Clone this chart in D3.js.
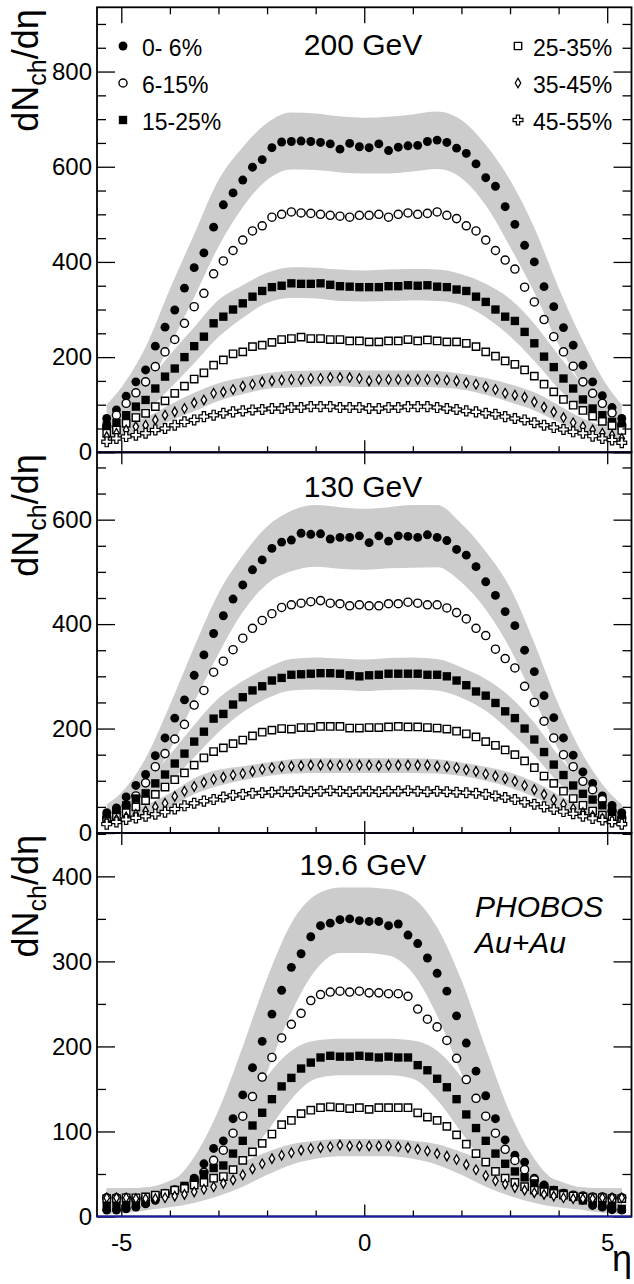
<!DOCTYPE html>
<html>
<head>
<meta charset="utf-8">
<script src="https://cdn.jsdelivr.net/npm/d3@7"></script>
<style>
  body { margin: 0; background: #fff; }
  svg { display: block; }
  text { font-family: "Liberation Sans", Arial, Helvetica, sans-serif; }
</style>
</head>
<body>
<div id="chart"></div>
<script>
// eta bin centres of the measured points
const etaBins = [-5.3, -5.1, -4.9, -4.7, -4.5, -4.3, -4.1, -3.9, -3.7, -3.5, -3.3, -3.1, -2.9, -2.7, -2.5, -2.3, -2.1, -1.9, -1.7, -1.5, -1.3, -1.1, -0.9, -0.7, -0.5, -0.3, -0.1,
                 0.1, 0.3, 0.5, 0.7, 0.9, 1.1, 1.3, 1.5, 1.7, 1.9, 2.1, 2.3, 2.5, 2.7, 2.9, 3.1, 3.3, 3.5, 3.7, 3.9, 4.1, 4.3, 4.5, 4.7, 4.9, 5.1, 5.3];
// eta grid of the systematic error bands
const bandEta = [-5.3, -5.0, -4.5, -4.0, -3.5, -3.0, -2.5, -2.0, -1.5, -1.0, -0.5, 0, 0.5, 1.0, 1.5, 2.0, 2.5, 3.0, 3.5, 4.0, 4.5, 5.0, 5.3];

const centralities = ["0- 6%", "6-15%", "15-25%", "25-35%", "35-45%", "45-55%"];

// 200 GeV
const dn200_0_6 = [71, 89, 118, 148, 173, 223, 263, 299, 345, 388, 419, 473, 520, 545, 572, 599, 615, 640, 652, 653, 654, 653, 651, 648, 637, 649, 642,
                   640, 648, 634, 641, 644, 645, 653, 656, 651, 639, 628, 606, 577, 559, 516, 479, 435, 400, 348, 306, 262, 225, 183, 148, 119, 94, 71];
const dn200_6_15 = [54, 78, 103, 125, 148, 180, 211, 237, 271, 306, 334, 375, 402, 424, 446, 465, 476, 494, 500, 505, 503, 502, 500, 498, 496, 494, 498,
                    498, 500, 494, 500, 503, 500, 502, 505, 498, 491, 476, 465, 446, 424, 404, 385, 347, 316, 279, 243, 211, 181, 148, 124, 103, 83, 57];
const dn200_15_25 = [56, 62, 78, 96, 110, 134, 159, 176, 200, 223, 243, 271, 285, 300, 313, 327, 339, 347, 350, 355, 354, 354, 355, 352, 349, 348, 347,
                     347, 347, 349, 349, 351, 350, 351, 348, 347, 342, 339, 327, 316, 300, 285, 276, 253, 229, 201, 179, 155, 134, 111, 92, 78, 64, 56];
const dn200_25_35 = [40, 47, 61, 73, 82, 96, 108, 124, 139, 154, 167, 183, 194, 207, 211, 222, 225, 231, 237, 239, 242, 239, 239, 237, 237, 234, 234,
                     232, 232, 234, 234, 237, 234, 236, 234, 232, 232, 229, 222, 211, 202, 192, 185, 173, 160, 143, 127, 111, 99, 88, 76, 65, 56, 46];
const dn200_35_45 = [33, 40, 47, 54, 57, 68, 78, 85, 92, 104, 110, 124, 127, 132, 139, 143, 148, 150, 152, 153, 153, 155, 155, 157, 157, 157, 155,
                     150, 153, 153, 153, 153, 153, 153, 153, 152, 150, 146, 143, 138, 132, 124, 120, 116, 106, 95, 85, 73, 62, 54, 47, 40, 36, 29];
const dn200_45_55 = [22, 29, 33, 36, 40, 47, 50, 57, 64, 68, 75, 78, 82, 85, 87, 89, 90, 92, 92, 94, 94, 96, 96, 96, 94, 94, 94,
                     92, 92, 94, 94, 96, 96, 96, 94, 92, 90, 87, 85, 82, 80, 75, 71, 68, 62, 57, 52, 48, 43, 40, 34, 29, 26, 20];
const band200_0_6_lo = [47, 74, 131, 225, 326, 432, 515, 572, 594, 593, 588, 586, 586, 590, 595, 576, 519, 432, 336, 227, 139, 76, 47];
const band200_0_6_hi = [100, 136, 221, 343, 458, 572, 641, 692, 714, 712, 706, 703, 705, 710, 716, 698, 646, 572, 472, 346, 234, 140, 100];
const band200_15_25_lo = [37, 50, 84, 134, 187, 242, 282, 314, 324, 323, 318, 317, 318, 319, 318, 310, 284, 244, 192, 134, 84, 51, 36];
const band200_15_25_hi = [78, 92, 141, 205, 263, 320, 351, 377, 389, 388, 384, 382, 384, 385, 384, 374, 354, 322, 270, 204, 142, 94, 77];
const band200_35_45_lo = [22, 32, 43, 66, 86, 108, 122, 133, 136, 138, 139, 137, 137, 137, 136, 132, 121, 105, 88, 63, 41, 27, 19];
const band200_35_45_hi = [44, 56, 73, 100, 125, 145, 157, 166, 171, 172, 173, 172, 172, 172, 171, 165, 156, 143, 126, 99, 71, 52, 42];

// 130 GeV
const dn130_0_6 = [39, 48, 69, 91, 112, 148, 182, 220, 255, 302, 341, 382, 416, 448, 475, 504, 523, 545, 557, 561, 574, 572, 573, 563, 566, 566, 569,
                   556, 569, 559, 569, 568, 566, 571, 566, 560, 543, 532, 510, 481, 455, 424, 397, 350, 309, 263, 221, 182, 149, 117, 95, 71, 53, 39];
const dn130_6_15 = [29, 39, 52, 71, 96, 127, 152, 180, 208, 245, 273, 308, 329, 351, 373, 392, 407, 420, 432, 437, 440, 443, 445, 440, 439, 435, 437,
                    435, 435, 439, 439, 442, 440, 437, 437, 431, 422, 410, 392, 378, 352, 334, 316, 281, 250, 214, 182, 150, 127, 99, 83, 64, 42, 29];
const dn130_15_25 = [29, 42, 53, 66, 76, 95, 112, 133, 152, 175, 194, 219, 228, 246, 260, 273, 281, 292, 297, 303, 304, 305, 306, 306, 305, 302, 300,
                     302, 303, 305, 305, 305, 305, 303, 303, 300, 292, 283, 271, 263, 249, 233, 220, 200, 179, 155, 131, 111, 91, 75, 64, 53, 42, 32];
const dn130_25_35 = [22, 30, 39, 50, 62, 74, 88, 102, 115, 130, 144, 156, 163, 171, 178, 186, 193, 197, 200, 199, 202, 202, 204, 204, 204, 201, 201,
                     202, 202, 203, 204, 203, 203, 202, 201, 199, 195, 190, 184, 175, 168, 159, 150, 138, 125, 109, 95, 80, 66, 53, 42, 34, 27, 21];
const dn130_35_45 = [22, 26, 31, 36, 42, 50, 57, 70, 80, 89, 97, 103, 107, 111, 114, 118, 122, 125, 127, 128, 129, 130, 130, 130, 130, 130, 130,
                     130, 129, 130, 130, 130, 130, 130, 128, 127, 125, 121, 118, 113, 109, 104, 99, 91, 83, 74, 64, 55, 47, 39, 33, 28, 23, 19];
const dn130_45_55 = [17, 21, 26, 29, 32, 36, 40, 46, 52, 57, 61, 64, 69, 72, 74, 76, 77, 78, 79, 79, 80, 79, 80, 81, 80, 79, 80,
                     80, 79, 80, 80, 81, 80, 79, 80, 79, 78, 77, 76, 74, 71, 68, 64, 59, 55, 50, 45, 41, 37, 32, 28, 25, 21, 17];
const band130_0_6_lo = [24, 41, 84, 159, 251, 343, 423, 477, 501, 510, 506, 504, 507, 508, 509, 480, 428, 353, 256, 160, 88, 43, 24];
const band130_0_6_hi = [55, 77, 143, 245, 356, 459, 532, 587, 617, 628, 624, 621, 624, 628, 628, 592, 539, 470, 364, 246, 150, 82, 55];
const band130_15_25_lo = [18, 33, 57, 97, 145, 193, 231, 258, 273, 275, 274, 272, 274, 275, 273, 259, 234, 195, 149, 96, 56, 34, 20];
const band130_15_25_hi = [41, 62, 97, 150, 207, 258, 291, 316, 333, 336, 334, 332, 335, 336, 333, 317, 295, 261, 211, 148, 96, 63, 45];
const band130_35_45_lo = [14, 20, 32, 49, 74, 90, 101, 109, 114, 115, 115, 115, 115, 115, 114, 109, 100, 87, 69, 47, 29, 18, 12];
const band130_35_45_hi = [31, 37, 54, 76, 105, 121, 128, 135, 141, 143, 143, 143, 143, 143, 141, 135, 127, 116, 98, 73, 50, 33, 27];

// 19.6 GeV
const dn19_0_6 = [7.5, 7.5, 9, 11, 15, 19, 27, 31, 33, 45, 62, 80, 89, 115, 143, 175, 206, 238, 266, 293, 309, 329, 342, 345, 349, 350, 348,
                  347, 347, 342, 344, 331, 321, 304, 286, 265, 236, 204, 171, 142, 115, 90, 72, 64, 45, 37, 31, 27, 23, 19, 13, 11, 8, 7.5];
const dn19_6_15 = [22, 22, 22, 21, 22, 24, 27, 31, 35, 42, 52, 66, 78, 98, 118, 141, 164, 187, 210, 226, 239, 254, 261, 264, 265, 264, 265,
                   263, 263, 262, 262, 259, 244, 232, 223, 207, 186, 161, 139, 118, 98, 79, 66, 55, 43, 35, 30, 27, 25, 24, 23, 23, 22, 22];
const dn19_15_25 = [11, 11, 13, 15, 17, 23, 27, 31, 36, 43, 50, 57, 60, 74, 89, 107, 122, 138, 153, 163, 174, 181, 187, 189, 188, 188, 189,
                    188, 187, 188, 187, 187, 178, 172, 162, 152, 138, 120, 104, 89, 74, 62, 53, 46, 39, 35, 31, 27, 23, 19, 17, 13, 11, 9];
const dn19_25_35 = [21, 21, 22, 22, 23, 25, 27, 31, 33, 37, 40, 45, 47, 55, 66, 76, 86, 97, 108, 113, 121, 125, 128, 129, 128, 127, 128,
                    126, 128, 128, 128, 128, 122, 117, 113, 106, 96, 85, 74, 64, 53, 45, 40, 35, 31, 29, 27, 25, 24, 23, 22, 22, 21, 21];
const dn19_35_45 = [22, 22, 22, 21, 21, 21, 22, 24, 26, 29, 32, 35, 39, 43, 49, 56, 62, 68, 72, 75, 78, 80, 81, 82, 84, 83, 83,
                    83, 83, 83, 82, 81, 79, 77, 74, 71, 67, 61, 55, 48, 42, 38, 34, 31, 28, 26, 24, 22, 21, 21, 21, 22, 22, 22];
const band19_0_6_lo = [3, 4, 7, 16, 30, 55, 100, 170, 240, 290, 310, 310, 307, 286, 236, 168, 98, 53, 29, 16, 8, 4, 3];
const band19_0_6_hi = [33, 33, 34, 40, 70, 125, 200, 280, 345, 378, 387, 387, 385, 375, 340, 278, 198, 122, 68, 40, 34, 33, 33];
const band19_15_25_lo = [3, 4, 8, 17, 28, 40, 62, 100, 138, 162, 166, 166, 166, 162, 137, 99, 61, 39, 27, 17, 8, 4, 3];
const band19_15_25_hi = [33, 33, 34, 42, 58, 82, 122, 165, 195, 207, 209, 209, 209, 207, 195, 164, 121, 80, 56, 42, 34, 33, 33];
const band19_35_45_lo = [5, 6, 8, 11, 16, 24, 35, 49, 61, 68, 71, 71, 71, 68, 61, 49, 35, 24, 16, 11, 8, 6, 5];
const band19_35_45_hi = [33, 33, 33, 35, 42, 52, 64, 76, 85, 89, 91, 91, 91, 89, 85, 76, 64, 52, 42, 35, 33, 33, 33];

const xTickLabels = [-5, 0, 5];
const yLabels200 = [0, 200, 400, 600, 800];
const yLabels130 = [0, 200, 400, 600];
const yLabels19 = [0, 100, 200, 300, 400];

const W = 634, H = 1284;
const xLeft = 97, xRight = 631.5;
const font = 24;

const panels = [
    { title: "200 GeV", titleY: 55, top: 7.3, bottom: 452.3, ymax: 935, minor: 50, labels: yLabels200,
      series: [dn200_0_6, dn200_6_15, dn200_15_25, dn200_25_35, dn200_35_45, dn200_45_55],
      bands: [[band200_0_6_lo, band200_0_6_hi], [band200_15_25_lo, band200_15_25_hi], [band200_35_45_lo, band200_35_45_hi]] },
    { title: "130 GeV", titleY: 497, top: 452.3, bottom: 833, ymax: 729, minor: 50, labels: yLabels130,
      series: [dn130_0_6, dn130_6_15, dn130_15_25, dn130_25_35, dn130_35_45, dn130_45_55],
      bands: [[band130_0_6_lo, band130_0_6_hi], [band130_15_25_lo, band130_15_25_hi], [band130_35_45_lo, band130_35_45_hi]] },
    { title: "19.6 GeV", titleY: 875, top: 833, bottom: 1216.5, ymax: 451, minor: 50, labels: yLabels19,
      series: [dn19_0_6, dn19_6_15, dn19_15_25, dn19_25_35, dn19_35_45],
      bands: [[band19_0_6_lo, band19_0_6_hi], [band19_15_25_lo, band19_15_25_hi], [band19_35_45_lo, band19_35_45_hi]] }
];

const markers = [
    { type: d3.symbolCircle, size: 62, fill: "#000", stroke: "none", sw: 0 },
    { type: d3.symbolCircle, size: 52, fill: "#fff", stroke: "#000", sw: 1.4 },
    { type: d3.symbolSquare, size: 70, fill: "#000", stroke: "none", sw: 0 },
    { type: d3.symbolSquare, size: 54, fill: "#fff", stroke: "#000", sw: 1.4 },
    { type: d3.symbolDiamond, size: 26, fill: "#fff", stroke: "#000", sw: 1.3 },
    { type: d3.symbolCross, size: 54, fill: "#fff", stroke: "#000", sw: 1.2 }
];

const svg = d3.select("#chart").append("svg")
    .attr("width", W)
    .attr("height", H);

const x = d3.scaleLinear().domain([-5.5, 5.5]).range([xLeft, xRight]);
const xMinor = [-4, -3, -2, -1, 1, 2, 3, 4];

function styleAxis(g) {
    g.select(".domain").remove();
    g.selectAll("line").attr("stroke", "#000").attr("stroke-width", 1.3);
    g.selectAll("text").attr("font-size", font).attr("font-family", null).attr("fill", "#000");
}

panels.forEach((p, pi) => {
    const y = d3.scaleLinear().domain([0, p.ymax]).range([p.bottom, p.top]);
    const g = svg.append("g");

    // systematic bands
    const area = d3.area()
        .x((d, i) => x(bandEta[i]))
        .y0(d => y(d[0]))
        .y1(d => y(d[1]))
        .curve(d3.curveMonotoneX);
    for (const [lo, hi] of p.bands) {
        g.append("path")
            .datum(lo.map((v, i) => [v, hi[i]]))
            .attr("d", area)
            .attr("fill", "#cccccc");
    }

    // data points
    p.series.forEach((vals, si) => {
        const m = markers[si];
        g.append("g").selectAll("path")
            .data(vals)
            .join("path")
            .attr("transform", (d, i) => `translate(${x(etaBins[i])},${y(d)})`)
            .attr("d", d3.symbol(m.type, m.size))
            .attr("fill", m.fill)
            .attr("stroke", m.stroke)
            .attr("stroke-width", m.sw);
    });

    // frame
    g.append("rect")
        .attr("x", xLeft).attr("y", p.top)
        .attr("width", xRight - xLeft).attr("height", p.bottom - p.top)
        .attr("fill", "none").attr("stroke", "#000").attr("stroke-width", 1.8);

    const yMinor = d3.range(p.minor, p.ymax, p.minor).filter(v => !p.labels.includes(v));

    // y axes, left with labels, right mirrored
    g.append("g").attr("transform", `translate(${xLeft},0)`)
        .call(d3.axisLeft(y).tickValues(p.labels).tickSizeInner(-18).tickSizeOuter(0).tickPadding(5).tickFormat(d => String(d)))
        .call(styleAxis);
    g.append("g").attr("transform", `translate(${xLeft},0)`)
        .call(d3.axisLeft(y).tickValues(yMinor).tickSizeInner(-9).tickSizeOuter(0).tickFormat(""))
        .call(styleAxis);
    g.append("g").attr("transform", `translate(${xRight},0)`)
        .call(d3.axisRight(y).tickValues(p.labels).tickSizeInner(-18).tickSizeOuter(0).tickFormat(""))
        .call(styleAxis);
    g.append("g").attr("transform", `translate(${xRight},0)`)
        .call(d3.axisRight(y).tickValues(yMinor).tickSizeInner(-9).tickSizeOuter(0).tickFormat(""))
        .call(styleAxis);

    // x ticks
    const last = pi === panels.length - 1;
    g.append("g").attr("transform", `translate(0,${p.bottom})`)
        .call(d3.axisBottom(x).tickValues(xTickLabels).tickSizeInner(-12).tickSizeOuter(0).tickPadding(17.5)
            .tickFormat(d => last ? String(d) : ""))
        .call(styleAxis);
    g.append("g").attr("transform", `translate(0,${p.bottom})`)
        .call(d3.axisBottom(x).tickValues(xMinor).tickSizeInner(-6).tickSizeOuter(0).tickFormat(""))
        .call(styleAxis);
    g.append("g").attr("transform", `translate(0,${p.top})`)
        .call(d3.axisTop(x).tickValues(xTickLabels).tickSizeInner(pi === 0 ? -16 : -12).tickSizeOuter(0).tickFormat(""))
        .call(styleAxis);
    if (pi === 0) {
        g.append("g").attr("transform", `translate(0,${p.top})`)
            .call(d3.axisTop(x).tickValues(xMinor).tickSizeInner(-7).tickSizeOuter(0).tickFormat(""))
            .call(styleAxis);
    }

    // blue zero line
    g.append("line")
        .attr("x1", xLeft).attr("x2", xRight)
        .attr("y1", y(0)).attr("y2", y(0))
        .attr("stroke", "#1c1caa").attr("stroke-width", 2);

    // energy label
    g.append("text")
        .attr("x", 363).attr("y", p.titleY)
        .attr("text-anchor", "middle")
        .attr("font-size", 30)
        .text(p.title);

    // y title
    const yt = g.append("text")
        .attr("transform", `translate(38,${p.top + 2}) rotate(-90)`)
        .attr("text-anchor", "end")
        .attr("font-size", 36);
    yt.append("tspan").text("dN");
    yt.append("tspan").attr("font-size", 25).attr("dy", 8).text("ch");
    yt.append("tspan").attr("dy", -8).text("/d\u03b7");
});

// legend, top panel
const legendRows = [47, 84, 121];
centralities.forEach((label, i) => {
    const m = markers[i];
    const col = i < 3 ? 0 : 1;
    const mx = col === 0 ? 123 : 518;
    const ty = legendRows[i % 3];
    svg.append("path")
        .attr("transform", `translate(${mx},${ty - 1})`)
        .attr("d", d3.symbol(m.type, m.size))
        .attr("fill", m.fill)
        .attr("stroke", m.stroke)
        .attr("stroke-width", m.sw);
    svg.append("text")
        .attr("x", col === 0 ? 142 : 533)
        .attr("y", ty + 9)
        .attr("font-size", 23)
        .text(label);
});

// experiment label
svg.append("text").attr("x", 475).attr("y", 917).attr("font-size", 30).attr("font-style", "italic").text("PHOBOS");
svg.append("text").attr("x", 475).attr("y", 953).attr("font-size", 30).attr("font-style", "italic").text("Au+Au");

// x title
svg.append("text")
    .attr("x", 632).attr("y", 1271)
    .attr("text-anchor", "end")
    .attr("font-size", 36)
    .text("\u03b7");
</script>
</body>
</html>
